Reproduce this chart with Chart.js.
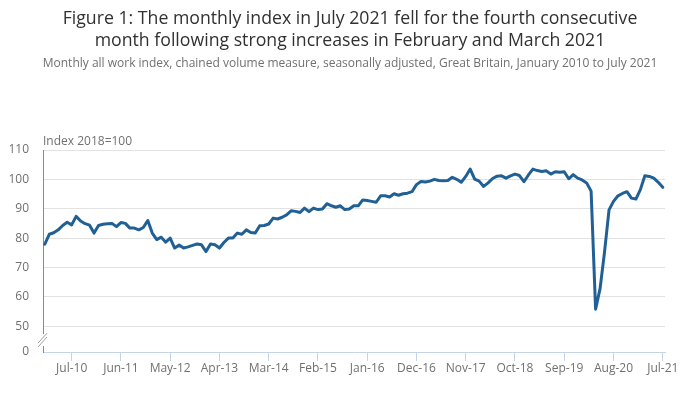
<!DOCTYPE html>
<html>
<head>
<meta charset="utf-8">
<script src="https://cdn.jsdelivr.net/npm/chart.js@4/dist/chart.umd.min.js"></script>
<style>
  html, body { margin: 0; padding: 0; background: #fff; }
  #wrap { width: 700px; height: 397px; position: relative; }
</style>
</head>
<body>
<div id="wrap"><canvas id="c" width="700" height="397"></canvas></div>
<script>
const TITLE_LINES = [
  "Figure 1: The monthly index in July 2021 fell for the fourth consecutive",
  "month following strong increases in February and March 2021"
];
const SUBTITLE = "Monthly all work index, chained volume measure, seasonally adjusted, Great Britain, January 2010 to July 2021";
const Y_LABEL = "Index 2018=100";

const MONTHS = ["Jan","Feb","Mar","Apr","May","Jun","Jul","Aug","Sep","Oct","Nov","Dec"];
const YEARS = [2010,2011,2012,2013,2014,2015,2016,2017,2018,2019,2020,2021];

const idx2010 = [77.9, 81.3, 81.8, 82.8, 84.3, 85.4, 84.5, 87.4, 85.8, 84.9, 84.4, 81.7];
const idx2011 = [84.3, 84.7, 84.9, 85.0, 83.9, 85.3, 85.0, 83.4, 83.4, 82.8, 83.6, 86.0];
const idx2012 = [81.7, 79.5, 80.3, 78.6, 80.0, 76.6, 77.6, 76.6, 77.0, 77.5, 78.0, 77.7];
const idx2013 = [75.4, 78.0, 77.7, 76.6, 78.5, 80.0, 80.0, 81.7, 81.3, 82.8, 81.9, 81.7];
const idx2014 = [84.2, 84.3, 84.8, 86.8, 86.5, 87.1, 87.9, 89.3, 89.1, 88.7, 90.2, 89.0];
const idx2015 = [90.2, 89.7, 89.9, 91.7, 91.0, 90.5, 91.0, 89.7, 89.9, 91.0, 91.0, 93.0];
const idx2016 = [92.8, 92.5, 92.2, 94.4, 94.4, 94.0, 95.1, 94.6, 95.1, 95.3, 95.8, 98.2];
const idx2017 = [99.3, 99.1, 99.4, 100.0, 99.6, 99.5, 99.6, 100.7, 100.0, 99.0, 101.0, 103.5];
const idx2018 = [100.1, 99.4, 97.6, 98.8, 100.3, 101.1, 101.2, 100.4, 101.2, 101.8, 101.3, 99.2];
const idx2019 = [101.5, 103.5, 103.0, 102.7, 102.9, 101.8, 102.6, 102.4, 102.6, 100.2, 101.6, 100.4];
const idx2020 = [99.8, 98.8, 96.0, 55.8, 62.8, 75.3, 89.6, 92.5, 94.4, 95.2, 95.8, 93.6];
const idx2021 = [93.3, 96.5, 101.2, 101.0, 100.4, 99.0, 97.3];

const values = [].concat(idx2010, idx2011, idx2012, idx2013, idx2014, idx2015,
  idx2016, idx2017, idx2018, idx2019, idx2020, idx2021);

const labels = [];
YEARS.forEach(y => MONTHS.forEach(m => labels.push(m + "-" + String(y).slice(2))));
labels.length = values.length;

const Y_TICKS = [50, 60, 70, 80, 90, 100, 110];
const Y_BREAK_MIN = 41.2; // shown as "0" after the axis break
const X_TICK_START = 6, X_TICK_STEP = 11;

const FONT = "'Open Sans', sans-serif";

const extras = {
  id: 'extras',
  afterDraw(chart) {
    const ctx = chart.ctx;
    const y = chart.scales.y;
    const area = chart.chartArea;
    ctx.save();
    // titles
    ctx.fillStyle = '#323132';
    ctx.textAlign = 'center';
    ctx.textBaseline = 'middle';
    ctx.font = "17.7px " + FONT;
    ctx.fillText(TITLE_LINES[0], 350, 19);
    ctx.fillText(TITLE_LINES[1], 350, 41);
    ctx.fillStyle = '#707070';
    ctx.font = "12px " + FONT;
    ctx.fillText(SUBTITLE, 350, 64);
    // axis title
    ctx.textAlign = 'left';
    ctx.fillText(Y_LABEL, area.left, area.top - 8);
    // axis break
    const yTop = y.getPixelForValue(50) + 8;
    const yBot = area.bottom - 6;
    ctx.fillStyle = '#ffffff';
    ctx.fillRect(area.left - 2, yTop, 4, yBot - yTop);
    ctx.strokeStyle = '#a0a0a0';
    ctx.lineWidth = 1;
    ctx.beginPath();
    ctx.moveTo(area.left - 5, yTop + 9);
    ctx.lineTo(area.left + 4, yTop - 1);
    ctx.moveTo(area.left - 5, yBot + 1);
    ctx.lineTo(area.left + 4, yBot - 9);
    ctx.stroke();
    ctx.restore();
  }
};

new Chart(document.getElementById('c'), {
  type: 'line',
  data: {
    datasets: [{
      data: values.map((v, i) => ({ x: i, y: v })),
      borderColor: '#206095',
      borderWidth: 3,
      borderJoinStyle: 'round',
      borderCapStyle: 'round',
      pointRadius: 0,
      tension: 0,
      fill: false
    }]
  },
  options: {
    responsive: false,
    animation: false,
    layout: { padding: { top: 150, right: 35, left: 0, bottom: 0 } },
    plugins: { legend: { display: false }, tooltip: { enabled: false }, title: { display: false } },
    scales: {
      x: {
        type: 'linear',
        min: -0.4,
        max: 138.5,
        afterBuildTicks(scale) {
          const t = [];
          for (let i = X_TICK_START; i < values.length; i += X_TICK_STEP) t.push({ value: i });
          scale.ticks = t;
        },
        afterFit(scale) { scale.height = 45; },
        ticks: {
          autoSkip: false,
          maxRotation: 0,
          padding: 0,
          color: '#707070',
          font: { family: FONT, size: 12 },
          callback: (v) => labels[v]
        },
        grid: { drawOnChartArea: false, drawTicks: true, tickLength: 9, color: '#c6d5e6' },
        border: { display: true, color: '#c6d5e6', width: 1 }
      },
      y: {
        type: 'linear',
        min: Y_BREAK_MIN,
        max: 110,
        afterBuildTicks(scale) {
          scale.ticks = [{ value: Y_BREAK_MIN }].concat(Y_TICKS.map(v => ({ value: v })));
        },
        afterFit(scale) { scale.width = 43; },
        ticks: {
          padding: 14,
          color: '#707070',
          font: { family: FONT, size: 12 },
          callback: (v) => v === Y_BREAK_MIN ? '0' : String(v)
        },
        grid: {
          drawTicks: false,
          color: (c) => (c.tick && c.tick.value >= 50) ? '#e2e2e2' : 'rgba(0,0,0,0)'
        },
        border: { display: true, color: '#8a8a8a', width: 1 }
      }
    }
  },
  plugins: [extras]
});
</script>
</body>
</html>
